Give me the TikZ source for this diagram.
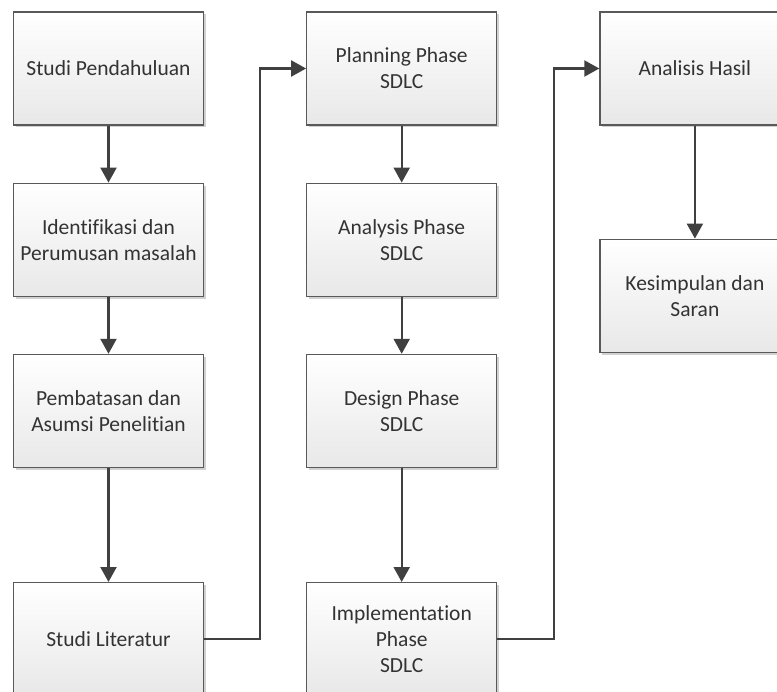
\documentclass[tikz,border=0pt]{standalone}
\usepackage{fontspec}
\setmainfont[Ligatures=CommonOff]{Carlito}
\usetikzlibrary{arrows.meta, positioning, shadows}

\begin{document}
\begin{tikzpicture}[
    x=1pt, y=-1pt,
    node distance=57pt and 102pt,
    edge/.style={-{Triangle[length=15pt,width=16pt]}, line width=2.2pt, black!75},
    stage/.style={rectangle, draw=black!65, line width=1.2pt, minimum width=190pt, minimum height=113pt,
        top color=white, bottom color=black!9, align=center,
        font=\fontsize{21.5}{26}\selectfont, text=black!80,
        drop shadow={shadow xshift=2.5pt, shadow yshift=-2.5pt, opacity=0.18, fill=black}}
]
    \useasboundingbox (0,0) rectangle (777,692);
    \clip (0,0) rectangle (777,692);

    % kolom 1
    \node[stage] at (108.5,68.5) (studi) {Studi Pendahuluan};
    \node[stage, below=of studi] (ident) {Identifikasi dan\\Perumusan masalah};
    \node[stage, below=of ident] (batas) {Pembatasan dan\\Asumsi Penelitian};
    \node[stage, below=114pt of batas] (lit) {Studi Literatur};

    % kolom 2
    \node[stage, right=of studi] (plan) {Planning Phase\\SDLC};
    \node[stage, below=of plan] (anl) {Analysis Phase\\SDLC};
    \node[stage, below=of anl] (dsg) {Design Phase\\SDLC};
    \node[stage, below=114pt of dsg] (impl) {Implementation\\Phase\\SDLC};

    % kolom 3
    \node[stage, right=of plan] (hasil) {Analisis Hasil};
    \node[stage, below=113pt of hasil] (simpul) {Kesimpulan dan\\Saran};

    \draw[edge] (studi) -- (ident);
    \draw[edge] (ident) -- (batas);
    \draw[edge] (batas) -- (lit);
    \draw[edge] (lit.east) -- ++(56pt,0) |- (plan.west);

    \draw[edge] (plan) -- (anl);
    \draw[edge] (anl) -- (dsg);
    \draw[edge] (dsg) -- (impl);
    \draw[edge] (impl.east) -- ++(57pt,0) |- (hasil.west);

    \draw[edge] (hasil) -- (simpul);
\end{tikzpicture}
\end{document}
